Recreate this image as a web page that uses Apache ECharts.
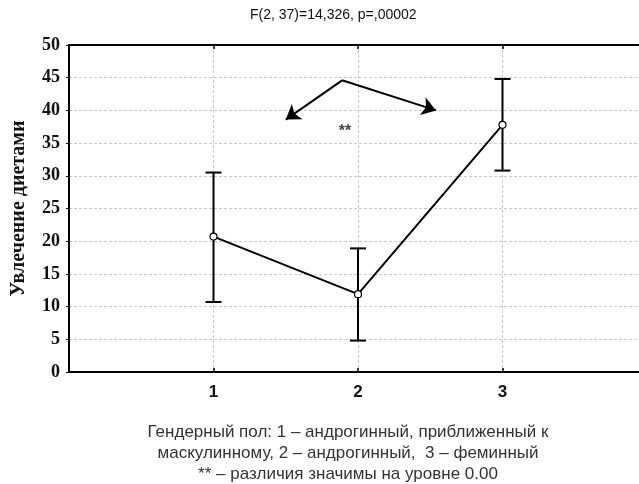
<!DOCTYPE html>
<html>
<head>
<meta charset="utf-8">
<script src="https://cdn.jsdelivr.net/npm/echarts@6/dist/echarts.min.js"></script>
<style>
  html, body { margin: 0; padding: 0; background: #fff; }
  #chart { width: 639px; height: 484px; }
</style>
</head>
<body>
<div id="chart"></div>
<script>
// группы (гендерный пол) и средние значения
var groups = [1, 2, 3];
var means = [20.7, 11.9, 37.8];
var errLow = [10.7, 4.8, 30.8];
var errHigh = [30.5, 18.9, 44.8];
var yTicks = [0, 5, 10, 15, 20, 25, 30, 35, 40, 45, 50];

// стрелки и отметка значимости (в координатах данных)
var arrowFrom = [1.89, 44.6];
var arrowTo = [[1.5, 38.6], [2.54, 40.0]];
var starPos = [1.91, 36.8];

var titleText = "F(2, 37)=14,326, p=,00002";
var yName = "Увлечение диетами";
var footerLines = [
    "Гендерный пол: 1 – андрогинный, приближенный к",
    "маскулинному, 2 – андрогинный,  3 – феминный",
    "** – различия значимы на уровне 0.00"
];

var myChart = echarts.init(document.getElementById('chart'));

var lineData = groups.map(function(g, i) { return [g, means[i]]; });
var errData = groups.map(function(g, i) { return [g, errLow[i], errHigh[i]]; });
var arrowData = arrowTo.map(function(t) { return { coords: [arrowFrom, t] }; });

var footer = footerLines.map(function(s, i) {
    return {
        type: 'text',
        x: 348,
        y: 432 + i * 21,
        style: {
            text: s,
            align: 'center',
            verticalAlign: 'middle',
            font: '17px "Liberation Sans"',
            fill: '#333'
        }
    };
});

var option = {
    backgroundColor: '#fff',
    animation: false,
    title: {
        text: titleText,
        left: 245,
        top: 3,
        textStyle: {
            fontFamily: 'Liberation Sans',
            fontSize: 14,
            fontWeight: 'normal',
            color: '#111'
        }
    },
    grid: {
        left: 69,
        right: -8,
        top: 45,
        bottom: 112,
        outerBoundsMode: 'none'
    },
    xAxis: [{
        type: 'value',
        min: 0,
        max: 4,
        interval: 1,
        axisLine: { lineStyle: { color: '#000', width: 2 } },
        axisTick: { show: true, inside: true, length: 4, lineStyle: { color: '#000', width: 1.5 } },
        axisLabel: {
            margin: 12,
            fontFamily: 'Liberation Sans',
            fontSize: 17,
            fontWeight: 'bold',
            color: '#111',
            formatter: function(v) { return groups.indexOf(v) >= 0 ? String(v) : ''; }
        },
        splitLine: { show: true, lineStyle: { color: '#c8c8c8', type: [3, 2], width: 1 } }
    }, {
        type: 'value',
        position: 'top',
        min: 0,
        max: 4,
        interval: 1,
        axisLine: { show: true, onZero: false, lineStyle: { color: '#000', width: 2 } },
        axisTick: { show: true, inside: true, length: 4, lineStyle: { color: '#000', width: 1.5 } },
        axisLabel: { show: false },
        splitLine: { show: false }
    }],
    yAxis: {
        type: 'value',
        min: 0,
        max: 50,
        interval: 5,
        name: yName,
        nameLocation: 'middle',
        nameGap: 40,
        nameTextStyle: {
            fontFamily: 'Liberation Serif',
            fontSize: 20,
            fontWeight: 'bold',
            color: '#111'
        },
        axisLine: { show: true, lineStyle: { color: '#000', width: 2 } },
        axisTick: { show: true, length: 3, lineStyle: { color: '#000', width: 1 } },
        axisLabel: {
            margin: 9,
            fontFamily: 'Liberation Serif',
            fontSize: 18,
            fontWeight: 'bold',
            color: '#111',
            formatter: function(v) { return yTicks.indexOf(v) >= 0 ? String(v) : ''; }
        },
        splitLine: { show: true, lineStyle: { color: '#c8c8c8', type: [3, 2], width: 1 } }
    },
    series: [{
        type: 'custom',
        name: 'err',
        z: 3,
        data: errData,
        renderItem: function(params, api) {
            var x = api.value(0);
            var lo = api.coord([x, api.value(1)]);
            var hi = api.coord([x, api.value(2)]);
            var half = 8;
            var st = { stroke: '#000', lineWidth: 2, fill: null };
            return {
                type: 'group',
                children: [
                    { type: 'line', shape: { x1: lo[0], y1: lo[1], x2: hi[0], y2: hi[1] }, style: st },
                    { type: 'line', shape: { x1: lo[0] - half, y1: lo[1], x2: lo[0] + half, y2: lo[1] }, style: st },
                    { type: 'line', shape: { x1: hi[0] - half, y1: hi[1], x2: hi[0] + half, y2: hi[1] }, style: st }
                ]
            };
        }
    }, {
        type: 'line',
        name: 'mean',
        z: 5,
        data: lineData,
        symbol: 'circle',
        symbolSize: 7,
        showAllSymbol: true,
        lineStyle: { color: '#000', width: 2 },
        itemStyle: { color: '#fff', borderColor: '#000', borderWidth: 1.2 }
    }, {
        type: 'lines',
        coordinateSystem: 'cartesian2d',
        z: 4,
        symbol: ['none', 'arrow'],
        symbolSize: [0, 14],
        lineStyle: { color: '#000', width: 2, opacity: 1 },
        data: arrowData
    }, {
        type: 'scatter',
        z: 4,
        symbolSize: 0,
        data: [starPos],
        label: {
            show: true,
            position: 'inside',
            formatter: '**',
            fontFamily: 'Liberation Sans',
            fontSize: 16,
            fontWeight: 'bold',
            color: '#111'
        }
    }],
    graphic: footer
};
myChart.setOption(option);
</script>
</body>
</html>
